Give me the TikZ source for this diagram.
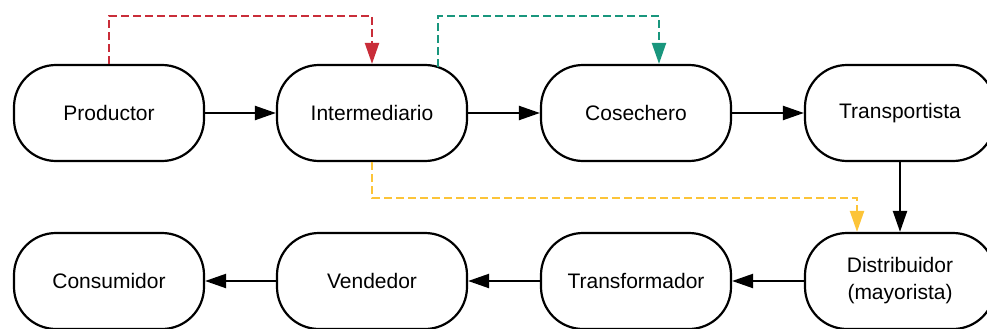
\documentclass[tikz,border=0pt]{standalone}
\usepackage{fontspec}
\setmainfont{Liberation Sans}
\usepackage{tikz}
\usetikzlibrary{arrows.meta}
\definecolor{rojo}{HTML}{C92D39}
\definecolor{verde}{HTML}{19967D}
\definecolor{amarillo}{HTML}{FCC438}
\tikzset{etapa/.style={draw,line width=2.2pt,rounded corners=42pt,minimum width=190pt,minimum height=96pt,inner sep=0pt,align=center,font=\fontsize{21}{27}\selectfont}}
\tikzset{flecha/.style={->,line width=2.2pt}}
\tikzset{punteada/.style={->,line width=2.2pt,dash pattern=on 8pt off 4pt}}

\begin{document}
\begin{tikzpicture}[x=1pt,y=-1pt,>={Triangle[length=21pt,width=14pt]},line join=miter]
                \useasboundingbox (0,0) rectangle (987,329);
                % fila de arriba
                \node[etapa] (productor) at (109,113) {Productor};
                \node[etapa] (intermediario) at (372,113) {Intermediario};
                \node[etapa] (cosechero) at (636,113) {Cosechero};
                \node[etapa] (transportista) at (900,113) {Transportista};
                % fila de abajo
                \node[etapa] (distribuidor) at (900,281) {Distribuidor\\(mayorista)};
                \node[etapa] (transformador) at (636,281) {Transformador};
                \node[etapa] (vendedor) at (372,281) {Vendedor};
                \node[etapa] (consumidor) at (109,281) {Consumidor};
                \draw [flecha] (productor) -- (intermediario);
                \draw [flecha] (intermediario) -- (cosechero);
                \draw [flecha] (cosechero) -- (transportista);
                \draw [flecha] (transportista) -- (distribuidor);
                \draw [flecha] (distribuidor) -- (transformador);
                \draw [flecha] (transformador) -- (vendedor);
                \draw [flecha] (vendedor) -- (consumidor);
                % conexiones punteadas
                \draw [punteada,color=rojo] (productor.north) -- ++(0,-48) -| (intermediario.north);
                \draw [punteada,color=verde] ([xshift=66pt,yshift=-3pt]intermediario.north) -- ++(0,-51) -| ([xshift=23pt]cosechero.north);
                \draw [punteada,color=amarillo] (intermediario.south) -- ++(0,36) -| ([xshift=-43pt]distribuidor.north);
            \end{tikzpicture}
\end{document}
